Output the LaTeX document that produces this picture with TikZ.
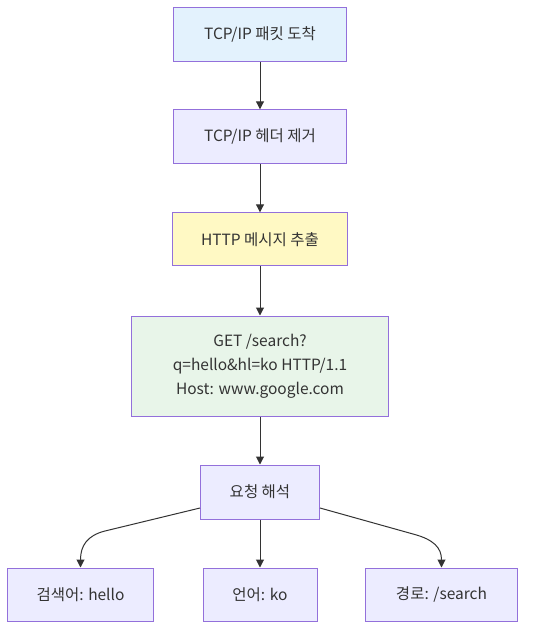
\documentclass[tikz,border=0pt]{standalone}
\usepackage{fontspec}
\setmainfont{Noto Sans CJK KR}
\usetikzlibrary{arrows.meta}
\definecolor{strokec}{HTML}{9370DB}
\definecolor{txt}{HTML}{333333}
\definecolor{fblue}{HTML}{E3F2FD}
\definecolor{fdef}{HTML}{ECECFF}
\definecolor{fyel}{HTML}{FFF9C4}
\definecolor{fgrn}{HTML}{E8F5E9}
\tikzset{
  box/.style={draw=strokec, line width=1pt, fill=fdef, text=txt, font=\fontsize{15.5}{24}\selectfont, align=center, inner sep=0pt},
  conn/.style={draw=txt, line width=1pt, -{Triangle[length=8pt,width=8pt]}},
}
\begin{document}
\begin{tikzpicture}[x=1pt,y=-1pt]
\useasboundingbox (0,0) rectangle (533,638);
\fill[white] (0,0) rectangle (533,638);
\node[box, fill=fblue, minimum width=173pt, minimum height=54pt] (a) at (260,34.3) {TCP/IP 패킷 도착};
\node[box, minimum width=173pt, minimum height=54pt] (b) at (260,136.8) {TCP/IP 헤더 제거};
\node[box, fill=fyel, minimum width=175pt, minimum height=53pt] (c) at (260,239.3) {HTTP 메시지 추출};
\node[box, fill=fgrn, minimum width=257pt, minimum height=100pt] (d) at (260,366) {GET /search?\\q=hello\&hl=ko HTTP/1.1\\Host: www.google.com};
\node[box, minimum width=119pt, minimum height=54pt] (e) at (260,492) {요청 해석};
\node[box, minimum width=146pt, minimum height=53pt] (f) at (80.5,594.5) {검색어: hello};
\node[box, minimum width=114pt, minimum height=53pt] (g) at (260,594.5) {언어: ko};
\node[box, minimum width=152pt, minimum height=53pt] (h) at (441.5,594.5) {경로: /search};
\coordinate (l1) at (105,531);
\coordinate (r1) at (413,534);
\draw[conn] (a) -- (b);
\draw[conn] (b) -- (c);
\draw[conn] (c) -- (d);
\draw[conn] (d) -- (e);
\draw[conn] (e) -- (g);
\draw[conn] (e.west |- 0,508) -- (l1) .. controls (87,535.5) and (80.5,546) .. (f.north);
\draw[conn] (e.east |- 0,508) -- (r1) .. controls (434,539.5) and (441.5,548) .. (h.north);
\end{tikzpicture}
\end{document}
